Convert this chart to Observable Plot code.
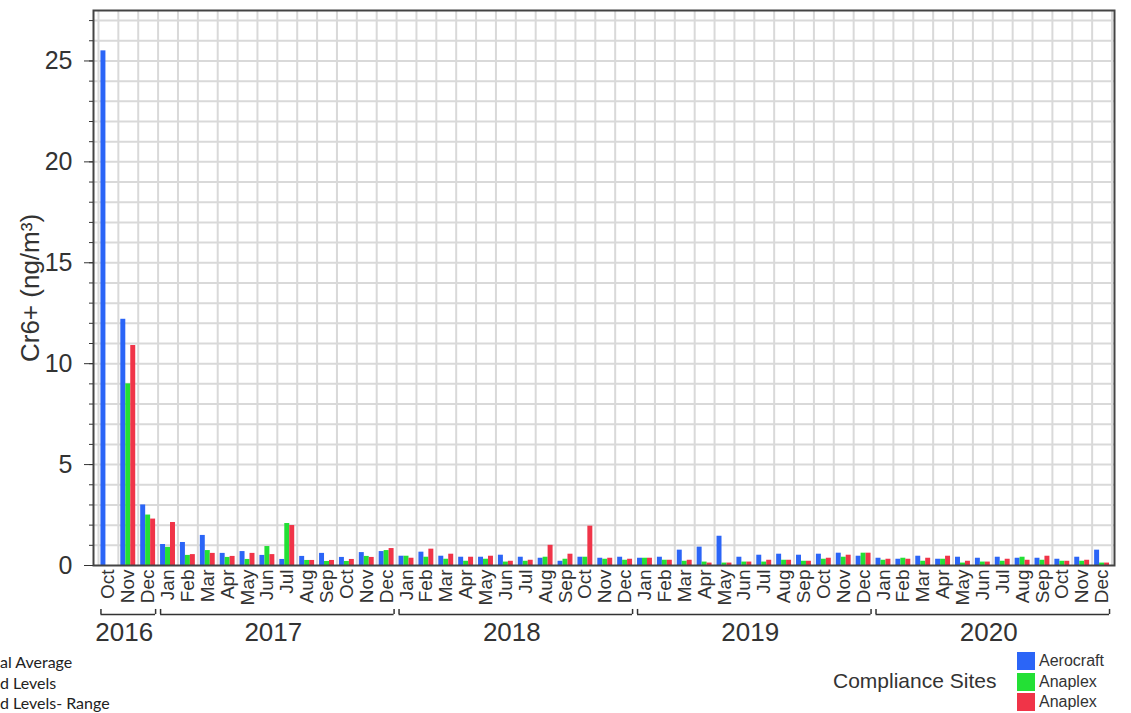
<!DOCTYPE html>
<html>
<head>
<meta charset="utf-8">
<script src="https://cdn.jsdelivr.net/npm/d3@7"></script>
<script src="https://cdn.jsdelivr.net/npm/@observablehq/plot@0.6"></script>
<style>
  body { margin: 0; background: #fff; }
  #wrap { position: relative; width: 1131px; height: 713px; overflow: hidden;
          font-family: "Helvetica Neue", Helvetica, "Liberation Sans", Arial, sans-serif; color: #333; }
  #chart { position: absolute; left: 0; top: 0; }
  .ll { position: absolute; left: 0; white-space: nowrap; font-family: Lato, "Open Sans", sans-serif;
        font-size: 16px; line-height: 18px; color: #222; }
  .lg-title { position: absolute; left: 833px; top: 669px; font-size: 21px; line-height: 24px; white-space: nowrap; }
  .lg-item { position: absolute; left: 1017px; height: 18px; display: flex; align-items: center; white-space: nowrap; }
  .lg-item span.sw { display: inline-block; width: 18px; height: 18px; margin-right: 4px; }
  .lg-item span.tx { font-size: 16px; line-height: 18px; }
</style>
</head>
<body>
<div id="wrap">
  <div id="chart"></div>
  <div class="ll" style="top:653px;">al Average</div>
  <div class="ll" style="top:674px;">d Levels</div>
  <div class="ll" style="top:694px;">d Levels- Range</div>
  <div class="lg-title">Compliance Sites</div>
  <div id="legend"></div>
</div>
<script>
// ---- data ----
const years = ["2016", "2017", "2018", "2019", "2020"];
const monthNames = [
  "Oct", "Nov", "Dec",
  "Jan", "Feb", "Mar", "Apr", "May", "Jun", "Jul", "Aug", "Sep", "Oct", "Nov", "Dec",
  "Jan", "Feb", "Mar", "Apr", "May", "Jun", "Jul", "Aug", "Sep", "Oct", "Nov", "Dec",
  "Jan", "Feb", "Mar", "Apr", "May", "Jun", "Jul", "Aug", "Sep", "Oct", "Nov", "Dec",
  "Jan", "Feb", "Mar", "Apr", "May", "Jun", "Jul", "Aug", "Sep", "Oct", "Nov", "Dec"
];
const monthYears = [
  "2016", "2016", "2016",
  ...Array(12).fill("2017"), ...Array(12).fill("2018"), ...Array(12).fill("2019"), ...Array(12).fill("2020")
];
const seriesNames = ["Aerocraft", "Anaplex (A)", "Anaplex (B)"];
const seriesLabels = ["Aerocraft", "Anaplex", "Anaplex"];
const seriesColors = ["#2B65F7", "#23E035", "#F03448"];

const aerocraft = [25.5, 12.2, 3.0,
  1.04, 1.14, 1.49, 0.60, 0.69, 0.50, 0.30, 0.45, 0.60, 0.40, 0.64, 0.69,
  0.46, 0.66, 0.46, 0.41, 0.41, 0.51, 0.41, 0.36, 0.21, 0.41, 0.36, 0.41,
  0.36, 0.41, 0.76, 0.91, 1.45, 0.41, 0.51, 0.56, 0.51, 0.56, 0.61, 0.46,
  0.36, 0.31, 0.46, 0.31, 0.41, 0.36, 0.41, 0.36, 0.36, 0.31, 0.41, 0.76];
const anaplexA = [null, 9.0, 2.5,
  0.90, 0.50, 0.74, 0.40, 0.30, 0.94, 2.08, 0.25, 0.20, 0.20, 0.45, 0.74,
  0.46, 0.41, 0.31, 0.21, 0.31, 0.17, 0.21, 0.41, 0.31, 0.41, 0.31, 0.26,
  0.36, 0.26, 0.21, 0.17, 0.12, 0.17, 0.17, 0.26, 0.21, 0.31, 0.41, 0.61,
  0.26, 0.36, 0.21, 0.31, 0.12, 0.17, 0.21, 0.41, 0.26, 0.21, 0.21, 0.12];
const anaplexB = [null, 10.9, 2.3,
  2.13, 0.54, 0.60, 0.45, 0.60, 0.54, 1.98, 0.25, 0.25, 0.30, 0.40, 0.84,
  0.36, 0.81, 0.56, 0.41, 0.46, 0.21, 0.26, 1.00, 0.56, 1.95, 0.36, 0.31,
  0.36, 0.26, 0.26, 0.12, 0.12, 0.17, 0.26, 0.26, 0.21, 0.36, 0.51, 0.61,
  0.31, 0.31, 0.36, 0.46, 0.21, 0.17, 0.31, 0.26, 0.46, 0.21, 0.26, 0.12];
const yTicks = [0, 5, 10, 15, 20, 25];

// ---- tables built from the arrays ----
const seriesValues = [aerocraft, anaplexA, anaplexB];
const rows = [];
seriesValues.forEach((vals, k) => vals.forEach((v, i) => {
  if (v != null) rows.push({i, k, series: seriesNames[k], value: v});
}));
const yearSpans = years.map(y => {
  const idx = monthYears.map((m, i) => m === y ? i : -1).filter(i => i >= 0);
  return {year: y, start: d3.min(idx), end: d3.max(idx)};
});
const bracketEnds = yearSpans.flatMap(d => [d.start - 0.375, d.end + 0.375]);
const boundaries = d3.range(monthNames.length + 1).map(i => i - 0.5);
const hGrid = d3.range(1, 28);

const textColor = "#333";
const chart = Plot.plot({
  width: 1131,
  height: 650,
  marginTop: 10,
  marginRight: 17,
  marginBottom: 85,
  marginLeft: 93,
  style: {fontFamily: '"Helvetica Neue", Helvetica, "Liberation Sans", Arial, sans-serif', color: textColor, background: "#fff"},
  x: {type: "linear", domain: [-0.75, monthNames.length - 1 + 0.625]},
  y: {domain: [0, 27.5]},
  color: {domain: seriesNames, range: seriesColors},
  marks: [
    Plot.ruleY(hGrid, {stroke: "#d9d9d9", strokeWidth: 2}),
    Plot.ruleX(boundaries, {stroke: "#d9d9d9", strokeWidth: 2}),
    Plot.rectY(rows, {
      x1: d => d.i - 0.375 + d.k * 0.25,
      x2: d => d.i - 0.125 + d.k * 0.25,
      y: "value",
      fill: "series"
    }),
    Plot.frame({stroke: "#444", strokeWidth: 2}),
    Plot.axisY({ticks: d3.range(0, 28), tickSize: 4, tickFormat: () => "", label: null, stroke: textColor}),
    Plot.axisY({ticks: yTicks, tickSize: 9, tickPadding: 12, fontSize: 25, label: null, stroke: textColor, fill: textColor}),
    Plot.text(["Cr6+ (ng/m³)"], {frameAnchor: "left", textAnchor: "middle", dx: -63, rotate: -90, fontSize: 26, fill: textColor}),
    Plot.axisX({ticks: d3.range(monthNames.length), tickFormat: i => monthNames[i], tickRotate: -90,
      tickSize: 0, tickPadding: 4, fontSize: 19, label: null, fill: textColor}),
    Plot.ruleY(yearSpans, {x1: d => d.start - 0.375, x2: d => d.end + 0.375, y: 0, dy: 49, stroke: textColor, strokeWidth: 1.5}),
    Plot.ruleX(bracketEnds, {x: d => d, y1: 0, y2: 0.25, dy: 49, stroke: textColor, strokeWidth: 1.5}),
    Plot.text(yearSpans, {x: d => (d.start + d.end) / 2, y: 0, dy: 67, dx: -4, text: "year", fontSize: 26, fill: textColor})
  ]
});
document.getElementById("chart").appendChild(chart);

// legend (right)
const legend = document.getElementById("legend");
const legendTops = [652, 673, 693];
seriesLabels.forEach((lab, k) => {
  const div = document.createElement("div");
  div.className = "lg-item";
  div.style.top = legendTops[k] + "px";
  div.innerHTML = `<span class="sw" style="background:${seriesColors[k]}"></span><span class="tx">${lab}</span>`;
  legend.appendChild(div);
});
</script>
</body>
</html>
